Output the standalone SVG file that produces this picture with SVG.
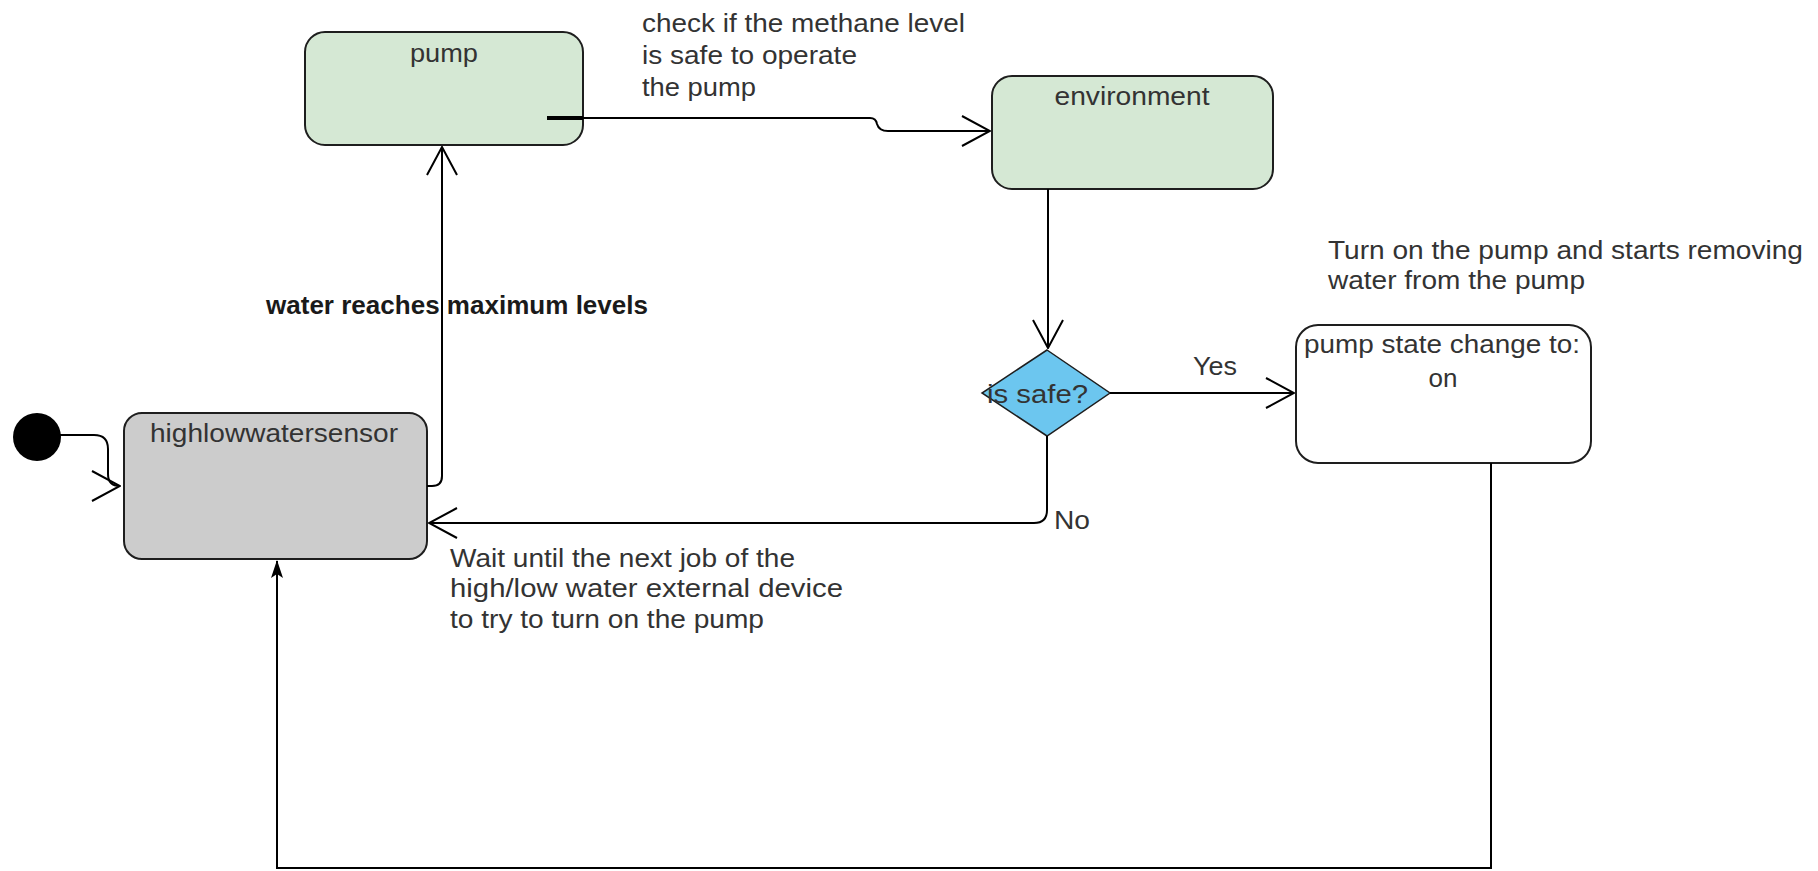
<svg xmlns="http://www.w3.org/2000/svg" width="1818" height="871" viewBox="0 0 1818 871">
  <style>
    .state { stroke: #1e1e1e; stroke-width: 2; }
    .green { fill: #d5e8d4; }
    .grey { fill: #cccccc; }
    .white { fill: #ffffff; }
    .title { font-family: "Liberation Sans", Arial, sans-serif; font-size: 25px; fill: #333333; }
    .label { font-family: "Liberation Sans", Arial, sans-serif; font-size: 26px; fill: #333333; }
    .bold { font-family: "Liberation Sans", Arial, sans-serif; font-size: 26px; font-weight: bold; fill: #1a1a1a; }
    .edge { fill: none; stroke: #000000; stroke-width: 2; }
  </style>
  <defs>
    <marker id="open" viewBox="0 0 30 32" refX="29" refY="16" markerWidth="30" markerHeight="32" markerUnits="userSpaceOnUse" orient="auto">
      <path d="M1,1 L29,16 L1,31" fill="none" stroke="#000" stroke-width="2"/>
    </marker>
    <marker id="block" viewBox="0 0 18 14" refX="17" refY="7" markerWidth="18" markerHeight="14" markerUnits="userSpaceOnUse" orient="auto">
      <path d="M0,1 L18,7 L0,13 L4,7 z" fill="#000"/>
    </marker>
  </defs>

  <rect width="1818" height="871" fill="#ffffff"/>

  <!-- initial pseudo-state -->
  <g id="start">
    <circle cx="37" cy="437" r="24" fill="#000000"/>
  </g>

  <!-- sensor state -->
  <g id="highlowwatersensor">
    <rect class="state grey" x="124" y="413" width="303" height="146" rx="18" ry="18"/>
    <text class="title" x="274" y="442" text-anchor="middle" textLength="248" lengthAdjust="spacingAndGlyphs">highlowwatersensor</text>
  </g>

  <!-- pump state -->
  <g id="pump">
    <rect class="state green" x="305" y="32" width="278" height="113" rx="20" ry="20"/>
    <text class="title" x="444" y="62" text-anchor="middle" textLength="68" lengthAdjust="spacingAndGlyphs">pump</text>
  </g>

  <!-- environment state -->
  <g id="environment">
    <rect class="state green" x="992" y="76" width="281" height="113" rx="20" ry="20"/>
    <text class="title" x="1132" y="105" text-anchor="middle" textLength="155" lengthAdjust="spacingAndGlyphs">environment</text>
  </g>

  <!-- decision -->
  <g id="is-safe">
    <polygon points="1047,350 1110,393 1047,436 982,393" fill="#6cc6ef" stroke="#1e1e1e" stroke-width="1.5"/>
    <text class="label" x="987" y="403" textLength="101" lengthAdjust="spacingAndGlyphs">is safe?</text>
  </g>

  <!-- pump switched on -->
  <g id="pump-state-on">
    <rect class="state white" x="1296" y="325" width="295" height="138" rx="22" ry="22"/>
    <text class="label" x="1442" y="353" text-anchor="middle" textLength="276" lengthAdjust="spacingAndGlyphs">pump state change to:</text>
    <text class="label" x="1443" y="387" text-anchor="middle">on</text>
  </g>

  <!-- connectors -->
  <g id="connectors">
    <!-- initial state into the sensor -->
    <path class="edge" d="M58,435 H94 Q108,435 108,449 V474 Q108,486 120,486" marker-end="url(#open)"/>
    <!-- sensor up to pump -->
    <path class="edge" d="M427,486 H432 Q442,486 442,476 V147" marker-end="url(#open)"/>
    <!-- pump to environment (starts inside the pump box) -->
    <path d="M547,118 H583" stroke="#000" stroke-width="4" fill="none"/>
    <path class="edge" d="M583,118 H870 Q876,118 877,124 Q879,131 888,131 H990" marker-end="url(#open)"/>
    <!-- environment to decision -->
    <path class="edge" d="M1048,189 V348" marker-end="url(#open)"/>
    <!-- decision: yes -->
    <path class="edge" d="M1110,393 H1294" marker-end="url(#open)"/>
    <!-- decision: no, back to the sensor -->
    <path class="edge" d="M1047,436 V510 Q1047,523 1034,523 H429" marker-end="url(#open)"/>
    <!-- pump on, loop back to the sensor -->
    <path class="edge" d="M1491,463 V868 H277 V561" marker-end="url(#block)"/>
  </g>

  <!-- edge labels and notes -->
  <g id="labels">
    <text class="bold" x="266" y="314" textLength="382" lengthAdjust="spacingAndGlyphs">water reaches maximum levels</text>

    <text class="label" x="642" y="32" textLength="323" lengthAdjust="spacingAndGlyphs">check if the methane level</text>
    <text class="label" x="642" y="64" textLength="215" lengthAdjust="spacingAndGlyphs">is safe to operate</text>
    <text class="label" x="642" y="96" textLength="114" lengthAdjust="spacingAndGlyphs">the pump</text>

    <text class="label" x="1328" y="259" textLength="475" lengthAdjust="spacingAndGlyphs">Turn on the pump and starts removing</text>
    <text class="label" x="1328" y="289" textLength="257" lengthAdjust="spacingAndGlyphs">water from the pump</text>

    <text class="label" x="1193" y="375" textLength="44" lengthAdjust="spacingAndGlyphs">Yes</text>
    <text class="label" x="1054" y="529" textLength="36" lengthAdjust="spacingAndGlyphs">No</text>

    <text class="label" x="450" y="567" textLength="345" lengthAdjust="spacingAndGlyphs">Wait until the next job of the</text>
    <text class="label" x="450" y="597" textLength="393" lengthAdjust="spacingAndGlyphs">high/low water external device</text>
    <text class="label" x="450" y="628" textLength="314" lengthAdjust="spacingAndGlyphs">to try to turn on the pump</text>
  </g>
</svg>
